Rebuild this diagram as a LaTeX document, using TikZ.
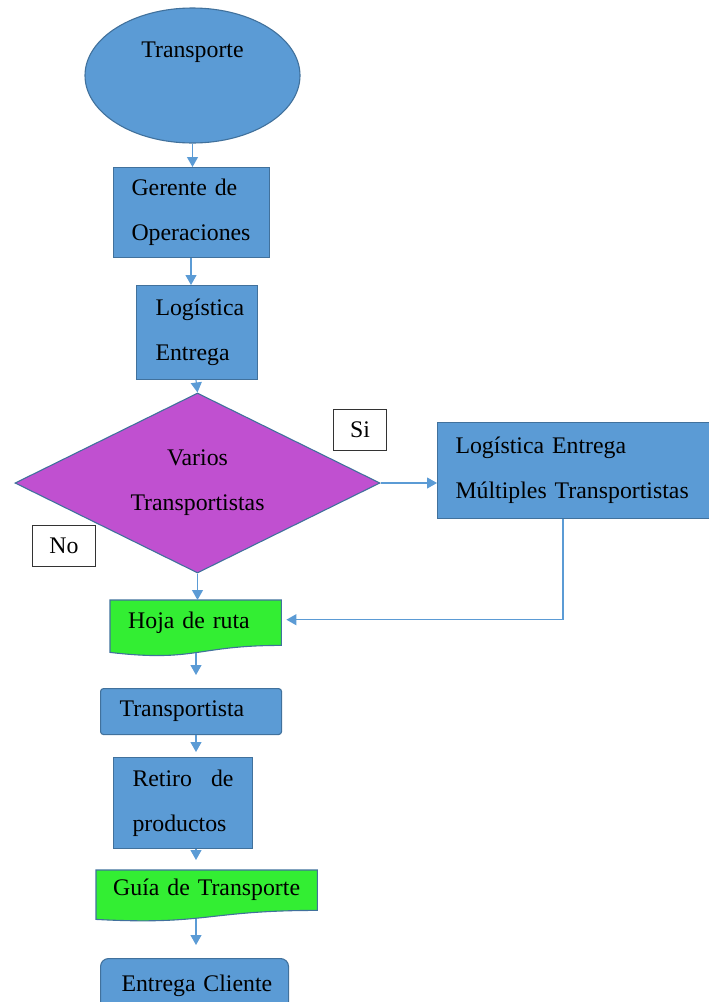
\documentclass[tikz,border=0pt]{standalone}
\usepackage{fontspec}
\setmainfont{Liberation Serif}
\usetikzlibrary{shapes.geometric,arrows.meta,backgrounds,calc}
\definecolor{boxblue}{HTML}{5B9BD5}
\definecolor{boxedge}{HTML}{41719C}
\definecolor{decisionfill}{HTML}{C050D0}
\definecolor{docgreen}{HTML}{33EE33}
\definecolor{linkblue}{HTML}{5B9BD5}

\begin{document}
\begin{tikzpicture}[x=1pt,y=-1pt,
  font=\fontsize{23.8}{45}\selectfont,
  process/.style={rectangle, draw=boxedge, fill=boxblue, line width=1.1pt,
    anchor=north west, inner ysep=0pt, align=left},
  docbox/.style={rectangle, anchor=north west, inner ysep=0pt, align=left},
  docshape/.style={fill=docgreen, draw=boxedge, line width=1.1pt},
  tag/.style={rectangle, draw=black!80, fill=white, line width=0.9pt,
    anchor=north west, inner sep=0pt},
  link/.style={draw=linkblue, line width=1.1pt, -{Triangle[length=10pt,width=11pt]}}
]
\useasboundingbox (0,0) rectangle (709,1002);

% vertical guide lines for the main chain of arrows
\coordinate (s1) at (191,0);
\coordinate (s2) at (196,0);

% start
\node[ellipse, draw=boxedge, fill=boxblue, line width=1.1pt,
      minimum width=215pt, minimum height=135pt, inner sep=0pt] (transp) at (192.5,75.5) {};
\node (transptitle) at ($(transp.center)+(0,-23)$) {Transporte};

% process boxes
\node[process, minimum width=156pt, minimum height=90pt, inner xsep=18pt, text width=120pt]
  (gerente) at (113,167) {\mbox{Gerente de}\\\mbox{Operaciones}};
\node[process, minimum width=121pt, minimum height=94pt, inner xsep=19pt, text width=83pt]
  (logis) at (136,285) {\mbox{Logística}\\\mbox{Entrega}};

% decision
\node[diamond, aspect=2, draw=boxedge, fill=decisionfill, line width=1.1pt,
      minimum width=365pt, minimum height=180pt, inner sep=0pt, align=center]
  (decision) at (197.5,483) {Varios\\Transportistas};

\node[tag, minimum width=53pt, minimum height=41pt] (si) at (333,409) {Si};
\node[tag, minimum width=63pt, minimum height=41pt] (no) at (32,525) {No};

\node[process, minimum width=275pt, minimum height=96pt, inner xsep=18pt, text width=239pt]
  (mult) at (437,422) {\mbox{Logística Entrega}\\\mbox{Múltiples Transportistas}};

% document: route sheet
\node[docbox, minimum width=171pt, minimum height=45pt, inner xsep=18pt, text width=135pt]
  (hoja) at (110,600) {\mbox{Hoja de ruta}};
\begin{scope}[on background layer]
  \filldraw[docshape] (hoja.north west) -- (hoja.north east) -- (hoja.south east)
    .. controls (hoja.south) and ($(hoja.south)+(0,17)$) .. ($(hoja.south west)+(0,7)$) -- cycle;
\end{scope}

\node[process, rounded corners=3pt, minimum width=181pt, minimum height=46pt,
      inner xsep=19pt, text width=143pt]
  (trans) at (100,688) {\mbox{Transportista}};

\node[process, minimum width=139pt, minimum height=91pt, inner xsep=19pt, text width=101pt]
  (retiro) at (113,757) {\makebox[101pt][l]{Retiro\hfill de}\\\mbox{productos}};

% document: transport guide
\node[docbox, minimum width=221pt, minimum height=40pt, inner xsep=17pt, text width=187pt]
  (guia) at (96,870) {\mbox{Guía de Transporte}};
\begin{scope}[on background layer]
  \filldraw[docshape] (guia.north west) -- (guia.north east) -- (guia.south east)
    .. controls (guia.south) and ($(guia.south)+(0,15)$) .. ($(guia.south west)+(0,9)$) -- cycle;
\end{scope}

\node[process, rounded corners=8pt, minimum width=188pt, minimum height=54pt,
      inner xsep=21pt, text width=146pt]
  (entrega) at (100,958) {\mbox{Entrega Cliente}};

% connectors
\draw[link] (transp.south) -- (gerente.north -| transp.south);
\draw[link] (gerente.south -| s1) -- (logis.north -| s1);
\draw[link] (logis.south -| s2) -- (decision.north);
\draw[link] (decision.east) -- (mult.west |- decision.east);
\draw[link] (decision.south) -- (hoja.north -| decision.south);
\draw[link, shorten >=5pt] ($(mult.south west)+(126,0)$) |- ($(hoja.east)+(0,-3)$);
\draw[link, shorten <=8pt, shorten >=13pt] (hoja.south -| s2) -- (trans.north -| s2);
\draw[link, shorten >=5pt] (trans.south -| s2) -- (retiro.north -| s2);
\draw[link, shorten >=10pt] (retiro.south -| s2) -- (guia.north -| s2);
\draw[link, shorten <=9pt, shorten >=13pt] (guia.south -| s2) -- (entrega.north -| s2);
\end{tikzpicture}
\end{document}
